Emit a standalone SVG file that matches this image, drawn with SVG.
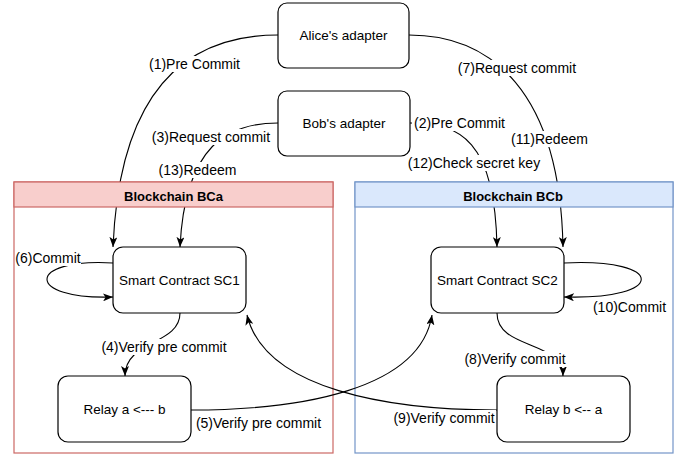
<svg xmlns="http://www.w3.org/2000/svg" width="688" height="460" viewBox="0 0 688 460">
<style>
.node{fill:#ffffff;stroke:#000000;stroke-width:1.2}
.nt{font-family:"Liberation Sans",Arial,sans-serif;font-size:13.5px;fill:#000;text-anchor:middle}
.lt{font-family:"Liberation Sans",Arial,sans-serif;font-size:14px;fill:#000;text-anchor:middle}
.ht{font-family:"Liberation Sans",Arial,sans-serif;font-size:13px;font-weight:bold;fill:#000;text-anchor:middle}
.edge{fill:none;stroke:#000;stroke-width:1.1;marker-end:url(#arr)}
.lb{fill:#ffffff}
.red{stroke:#cc6864;stroke-width:1.2}
.blue{stroke:#7395c8;stroke-width:1.2}
</style>
<defs>
<marker id="arr" viewBox="0 0 10 8" refX="10" refY="4" markerWidth="10" markerHeight="8" markerUnits="userSpaceOnUse" orient="auto">
<path d="M0,0 L10,4 L0,8 L2.5,4 Z" fill="#000"/>
</marker>
</defs>
<rect width="688" height="460" fill="#ffffff"/>

<g id="bca-body">
<rect class="red" x="14" y="182" width="319" height="271" fill="#ffffff"/>
</g>
<g id="bcb-body">
<rect class="blue" x="355" y="182" width="318" height="271" fill="#ffffff"/>
</g>

<g id="connectors">
<path class="edge" d="M278,35 C195,35 120,80 113,247"/>
<path class="edge" d="M278,123 C228,123 185,145 180,247"/>
<path class="edge" d="M409,35 C490,35 560,90 563,247"/>
<path class="edge" d="M410,123 C460,123 495,140 497,247"/>
<path class="edge" d="M113,263 C25,258 25,300 113,297"/>
<path class="edge" d="M564,263 C667,258 667,300 564,297"/>
<path class="edge" d="M180,313 C180,345 125,340 125,376"/>
<path class="edge" d="M497,313 C497,350 563,340 563,376"/>
<path class="edge" d="M191,410 C300,410 420,390 432,315"/>
<path class="edge" d="M497,410 C390,410 265,390 247,315"/>
</g>

<g id="bca">
<rect class="red" x="14" y="182" width="319" height="25" fill="#f8cecc"/>
<text class="ht" x="173.5" y="200.5">Blockchain BCa</text>
</g>
<g id="bcb">
<rect class="blue" x="355" y="182" width="318" height="25" fill="#dae8fc"/>
<text class="ht" x="513" y="200.5">Blockchain BCb</text>
</g>

<g id="labels">
<rect class="lb" x="148" y="56" width="93" height="16"/>
<text class="lt" x="194.5" y="69">(1)Pre Commit</text>
<rect class="lb" x="151" y="129" width="120" height="16"/>
<text class="lt" x="211" y="142">(3)Request commit</text>
<rect class="lb" x="158" y="162" width="79" height="16"/>
<text class="lt" x="197.5" y="175">(13)Redeem</text>
<rect class="lb" x="457" y="60" width="120" height="16"/>
<text class="lt" x="517" y="73">(7)Request commit</text>
<rect class="lb" x="412" y="115" width="95" height="16"/>
<text class="lt" x="459.5" y="128">(2)Pre Commit</text>
<rect class="lb" x="511" y="131" width="77" height="16"/>
<text class="lt" x="549.5" y="144">(11)Redeem</text>
<rect class="lb" x="407" y="155" width="134" height="16"/>
<text class="lt" x="474" y="168">(12)Check secret key</text>
<rect class="lb" x="15" y="250" width="66" height="16"/>
<text class="lt" x="48" y="263">(6)Commit</text>
<rect class="lb" x="100" y="339" width="128" height="16"/>
<text class="lt" x="164" y="352">(4)Verify pre commit</text>
<rect class="lb" x="194" y="415" width="129" height="16"/>
<text class="lt" x="258.5" y="428">(5)Verify pre commit</text>
<rect class="lb" x="592" y="299" width="75" height="16"/>
<text class="lt" x="629.5" y="312">(10)Commit</text>
<rect class="lb" x="463" y="351" width="104" height="16"/>
<text class="lt" x="515" y="364">(8)Verify commit</text>
<rect class="lb" x="392" y="410" width="104" height="16"/>
<text class="lt" x="444" y="423">(9)Verify commit</text>
</g>

<g id="alice">
<rect class="node" x="278" y="3" width="131" height="65" rx="9"/>
<text class="nt" x="343.5" y="40">Alice's adapter</text>
</g>
<g id="bob">
<rect class="node" x="278" y="91" width="132" height="65" rx="9"/>
<text class="nt" x="344" y="128">Bob's adapter</text>
</g>
<g id="sc1">
<rect class="node" x="113" y="247" width="133" height="66" rx="10"/>
<text class="nt" x="179.5" y="285">Smart Contract SC1</text>
</g>
<g id="sc2">
<rect class="node" x="431" y="247" width="133" height="66" rx="10"/>
<text class="nt" x="497.5" y="285">Smart Contract SC2</text>
</g>
<g id="relaya">
<rect class="node" x="58" y="376" width="133" height="66" rx="10"/>
<text class="nt" x="124.5" y="414">Relay a &lt;--- b</text>
</g>
<g id="relayb">
<rect class="node" x="497" y="376" width="133" height="66" rx="10"/>
<text class="nt" x="563.5" y="414">Relay b &lt;-- a</text>
</g>
</svg>
